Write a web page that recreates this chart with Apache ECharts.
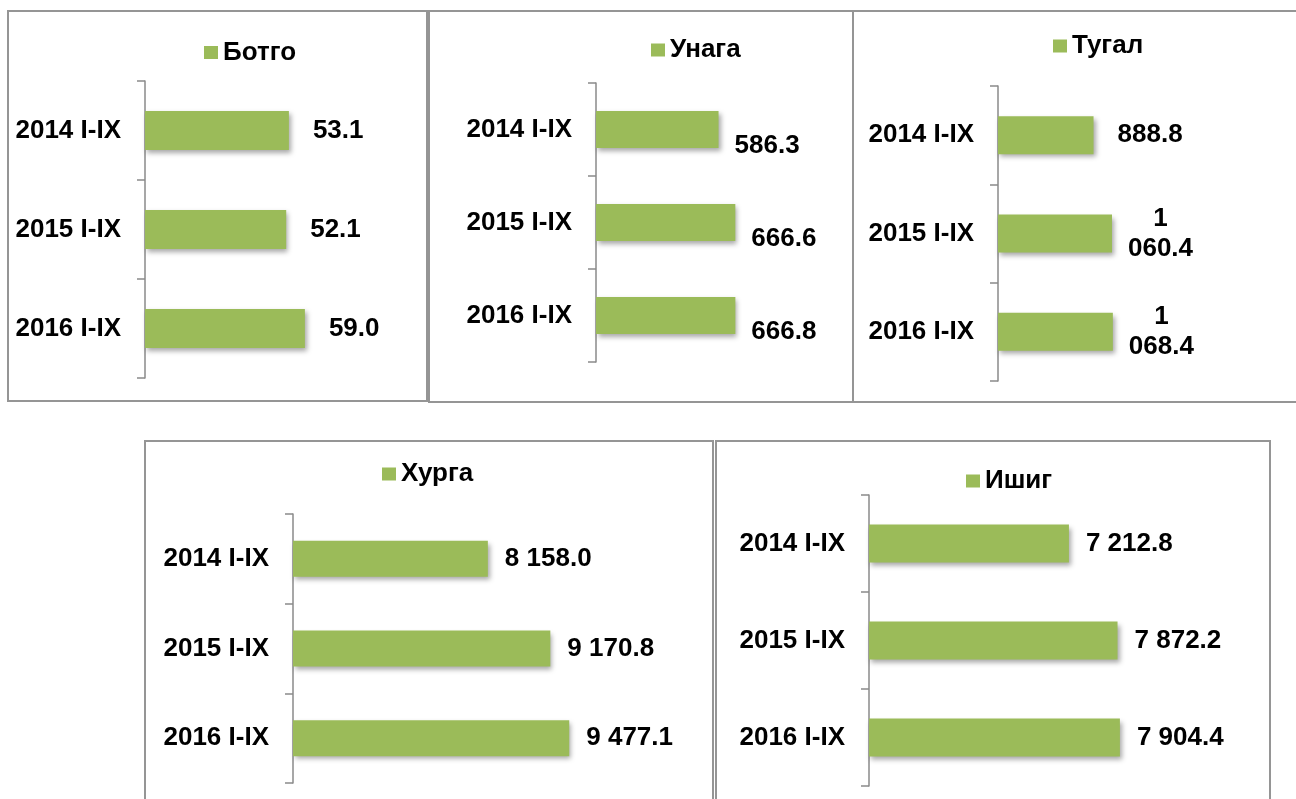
<!DOCTYPE html>
<html>
<head>
<meta charset="utf-8">
<script src="https://cdn.jsdelivr.net/npm/echarts@6/dist/echarts.min.js"></script>
<style>
  html, body { margin: 0; padding: 0; background: #fff; }
  #chart { width: 1296px; height: 799px; }
</style>
</head>
<body>
<div id="chart"></div>
<script>
// ---- data ----
const categories = ['2014 I-IX', '2015 I-IX', '2016 I-IX'];
const seriesNames = ['Ботго', 'Унага', 'Тугал', 'Хурга', 'Ишиг'];
const botgo  = [53.1, 52.1, 59.0];
const unaga  = [586.3, 666.6, 666.8];
const tugal  = [888.8, 1060.4, 1068.4];
const khurga = [8158.0, 9170.8, 9477.1];
const ishig  = [7212.8, 7872.2, 7904.4];

// ---- layout ----
const FONT = 'Liberation Sans, Arial, Helvetica, sans-serif';
const GREEN = '#9BBB59';
const AXIS_GRAY = '#8a8a8a';

const panels = [
  { name: seriesNames[0], data: botgo,  grid: { left: 145, top: 81,  width: 189.7, height: 297 }, min: 0,    max: 70,    barWidth: 39, dist: 24, offset: [0, 0],  legend: { left: 204,  top: 39.5 } },
  { name: seriesNames[1], data: unaga,  grid: { left: 596, top: 83,  width: 209,   height: 279 }, min: 0,    max: 1000,  barWidth: 37, dist: 16, offset: [0, 16], legend: { left: 651,  top: 37 } },
  { name: seriesNames[2], data: tugal,  grid: { left: 998, top: 86,  width: 215,   height: 295 }, min: 0,    max: 2000,  barWidth: 38, dist: 24, offset: [0, 0],  legend: { left: 1053, top: 33 }, wrap: true },
  { name: seriesNames[3], data: khurga, grid: { left: 293, top: 514, width: 308.5, height: 269 }, min: 5000, max: 10000, barWidth: 36, dist: 17, offset: [0, 0],  legend: { left: 382,  top: 461 } },
  { name: seriesNames[4], data: ishig,  grid: { left: 869, top: 495, width: 294.8, height: 291 }, min: 4500, max: 8500,  barWidth: 38, dist: 17, offset: [0, 0],  legend: { left: 966,  top: 468 } }
];

const borders = [
  { x: 8,   y: 11,  width: 419, height: 390 },
  { x: 429, y: 11,  width: 424, height: 391 },
  { x: 853, y: 11,  width: 470, height: 391 },
  { x: 145, y: 441, width: 568, height: 380 },
  { x: 716, y: 441, width: 554, height: 380 }
];

function fmt(v) {
  const s = v.toFixed(1);
  const parts = s.split('.');
  parts[0] = parts[0].replace(/\B(?=(\d{3})+(?!\d))/g, ' ');
  return parts.join('.');
}

const option = {
  animation: false,
  backgroundColor: '#fff',
  textStyle: { fontFamily: FONT },
  graphic: borders.map(b => ({
    type: 'rect',
    shape: b,
    style: { fill: 'none', stroke: '#959595', lineWidth: 2 },
    silent: true,
    z: 0
  })),
  grid: panels.map(p => Object.assign({ containLabel: false }, p.grid)),
  legend: panels.map(p => ({
    data: [p.name],
    left: p.legend.left,
    top: p.legend.top,
    padding: 0,
    icon: 'rect',
    itemWidth: 14,
    itemHeight: 13,
    itemGap: 0,
    selectedMode: false,
    itemStyle: { shadowBlur: 0, shadowOffsetX: 0, shadowOffsetY: 0, shadowColor: 'transparent' },
    textStyle: { fontFamily: FONT, fontSize: 26, fontWeight: 'bold', color: '#000', padding: [0, 0, 0, 0] }
  })),
  xAxis: panels.map((p, i) => ({
    type: 'value',
    gridIndex: i,
    min: p.min,
    max: p.max,
    show: false,
    splitLine: { show: false }
  })),
  yAxis: panels.map((p, i) => ({
    type: 'category',
    gridIndex: i,
    data: categories,
    inverse: true,
    axisLine: { show: true, onZero: false, lineStyle: { color: AXIS_GRAY, width: 1.5 } },
    axisTick: { show: true, length: 8, inside: false, lineStyle: { color: AXIS_GRAY, width: 1.5 } },
    axisLabel: { margin: 24, fontFamily: FONT, fontSize: 26, fontWeight: 'bold', color: '#000' },
    splitLine: { show: false }
  })),
  series: panels.map((p, i) => ({
    type: 'bar',
    name: p.name,
    xAxisIndex: i,
    yAxisIndex: i,
    barWidth: p.barWidth,
    data: p.data.map(v => (p.wrap && fmt(v).indexOf(' ') >= 0) ? { value: v, label: { distance: 16 } } : v),
    itemStyle: {
      color: GREEN,
      shadowBlur: 5,
      shadowColor: 'rgba(0,0,0,0.35)',
      shadowOffsetX: 2,
      shadowOffsetY: 3
    },
    label: {
      show: true,
      position: 'right',
      distance: p.dist,
      offset: p.offset,
      fontFamily: FONT,
      fontSize: 26,
      fontWeight: 'bold',
      color: '#000',
      formatter: prm => {
        const s = fmt(prm.value);
        if (!p.wrap) return s;
        return s.split(' ').map(t => '{c|' + t + '}').join('\n');
      },
      rich: {
        c: { align: 'center', fontFamily: FONT, fontSize: 26, fontWeight: 'bold', color: '#000', lineHeight: 30 }
      }
    }
  }))
};

const chart = echarts.init(document.getElementById('chart'), null, { renderer: 'canvas' });
chart.setOption(option);
</script>
</body>
</html>
